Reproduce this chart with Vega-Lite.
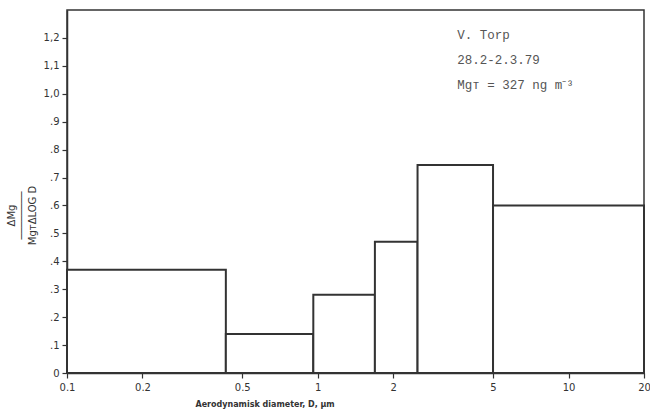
{
  "$schema": "https://vega.github.io/schema/vega-lite/v6.json",
  "autosize": {"type": "none"},
  "width": 577,
  "height": 363,
  "padding": {"left": 67, "top": 10, "right": 6, "bottom": 41},
  "background": "white",
  "config": {
    "view": {"stroke": "#333", "strokeWidth": 1.5},
    "axis": {"grid": false, "labelOverlap": false, "domainColor": "#333", "domainWidth": 1.5, "tickColor": "#333", "tickWidth": 1.2, "labelColor": "#333", "titleColor": "#333", "labelFont": "DejaVu Sans", "titleFont": "DejaVu Sans"}
  },
  "datasets": {
    "bars": [
      {"lo": 0.1, "hi": 0.43, "v": 0.37},
      {"lo": 0.43, "hi": 0.96, "v": 0.14},
      {"lo": 0.96, "hi": 1.69, "v": 0.28},
      {"lo": 1.69, "hi": 2.5, "v": 0.47},
      {"lo": 2.5, "hi": 5, "v": 0.745},
      {"lo": 5, "hi": 20, "v": 0.6}
    ],
    "notes": [
      {"x": 3.6, "y": 1.21, "t": "V. Torp"},
      {"x": 3.6, "y": 1.12, "t": "28.2-2.3.79"},
      {"x": 3.6, "y": 1.03, "t": "Mgᴛ = 327 ng m⁻³"}
    ]
  },
  "layer": [
    {
      "data": {"name": "bars"},
      "mark": {"type": "rect", "fill": "white", "stroke": "#333", "strokeWidth": 2},
      "encoding": {
        "x": {"field": "lo", "type": "quantitative",
          "scale": {"type": "log", "domain": [0.1, 20], "nice": false},
          "axis": {"values": [0.1, 0.2, 0.5, 1, 2, 5, 10, 20], "labelExpr": "datum.value < 1 ? format(datum.value, '.1f') : format(datum.value, 'd')", "tickSize": 5, "labelFontSize": 10, "labelPadding": 4, "labelFlush": false, "labelOverlap": false,
            "title": "Aerodynamisk   diameter, D, μm", "titleFontSize": 8, "titleFontWeight": "bold", "titleAnchor": "start", "titleX": 128, "titleAlign": "left", "titlePadding": 8}},
        "x2": {"field": "hi"},
        "y": {"field": "v", "type": "quantitative",
          "scale": {"domain": [0, 1.3], "nice": false},
          "axis": {"values": [0, 0.1, 0.2, 0.3, 0.4, 0.5, 0.6, 0.7, 0.8, 0.9, 1.0, 1.1, 1.2], "tickCount": 13, "labelOverlap": false,
            "labelExpr": "datum.value == 0 ? '0' : (datum.value >= 1 ? replace(format(datum.value, '.1f'), '.', ',') : slice(format(datum.value, '.1f'), 1))",
            "tickSize": 5, "labelFontSize": 10, "labelPadding": 3,
            "title": ["ΔMg", "────────", "MgᴛΔLOG D"], "titleFontSize": 10, "titleLineHeight": 10.5, "titleFontWeight": "normal", "titlePadding": 6, "titleY": 205, "titleAlign": "center"}},
        "y2": {"datum": 0}
      }
    },
    {
      "data": {"name": "notes"},
      "mark": {"type": "text", "align": "left", "baseline": "middle", "font": "Liberation Mono", "fontSize": 12.5, "color": "#555"},
      "encoding": {
        "x": {"field": "x", "type": "quantitative"},
        "y": {"field": "y", "type": "quantitative"},
        "text": {"field": "t"}
      }
    }
  ]
}
